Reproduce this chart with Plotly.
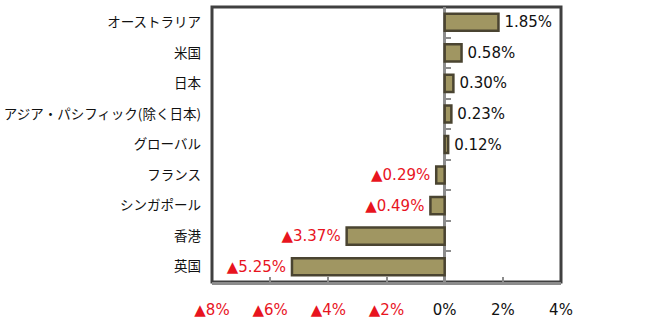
import plotly.graph_objects as go

categories = ["オーストラリア", "米国", "日本", "アジア・パシフィック(除く日本)", "グローバル",
              "フランス", "シンガポール", "香港", "英国"]
values = [1.85, 0.58, 0.30, 0.23, 0.12, -0.29, -0.49, -3.37, -5.25]
tick_vals = [-8, -6, -4, -2, 0, 2, 4]

def fmt_label(v):
    return ("▲%.2f%%\u2009" % abs(v)) if v < 0 else ("\u2009%.2f%%" % v)

def fmt_tick(v):
    if v < 0:
        return '<span style="color:#E8141E">▲%d%%</span>' % abs(v)
    return "%d%%" % v

labels = [fmt_label(v) for v in values]
label_colors = ["#E8141E" if v < 0 else "#111111" for v in values]

fig = go.Figure()
fig.add_trace(go.Bar(
    x=values, y=categories, orientation="h",
    marker=dict(color="#A09662", line=dict(color="#4A4431", width=2.5)),
    text=labels, textposition="outside", cliponaxis=False, constraintext="none",
    textfont=dict(family="DejaVu Sans, Verdana", size=15, color=label_colors),
    width=0.56,
))
# invisible trace to carry the category ticks drawn on the zero line
fig.add_trace(go.Bar(x=[None]*len(categories), y=categories, orientation="h",
                     yaxis="y2", showlegend=False, hoverinfo="skip"))

fig.update_layout(
    width=652, height=324,
    margin=dict(l=212, r=91, t=7, b=42),
    paper_bgcolor="white", plot_bgcolor="white",
    showlegend=False,
    xaxis=dict(
        range=[-8, 4], tickvals=tick_vals, ticktext=[fmt_tick(v) for v in tick_vals],
        showgrid=False, zeroline=True, zerolinecolor="#8C8C8C", zerolinewidth=3,
        showline=True, linecolor="#8C8C8C", linewidth=3,
        ticks="inside", ticklen=5, tickwidth=2, tickcolor="#8C8C8C",
        tickfont=dict(family="DejaVu Sans, Verdana", size=15, color="#111111"),
        ticklabelstandoff=12, automargin=False,
    ),
    yaxis=dict(
        categoryorder="array", categoryarray=categories, autorange="reversed",
        showgrid=False, showline=False, ticks="",
        tickfont=dict(family="Noto Sans CJK JP", size=13.5, color="#111111"),
        ticklabelstandoff=10, automargin=False,
    ),
    yaxis2=dict(
        overlaying="y", matches="y", anchor="free", position=8/12, side="left",
        showticklabels=False, showgrid=False, showline=False,
        ticks="inside", ticklen=5, tickwidth=2, tickcolor="#8C8C8C",
        tickson="boundaries", automargin=False,
    ),
    shapes=[dict(type="rect", xref="paper", yref="paper", x0=0, x1=1, y0=0, y1=1,
                 line=dict(color="#404040", width=3), layer="below")],
)

fig.write_html("out.html")
